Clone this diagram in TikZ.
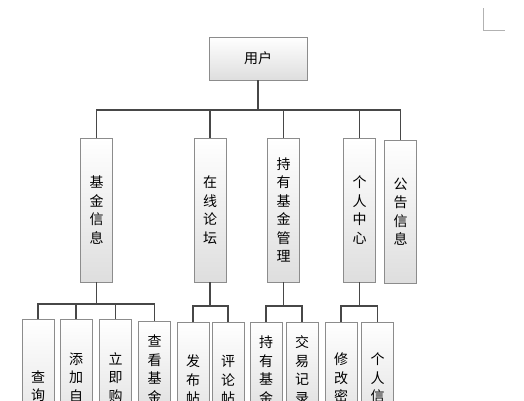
\documentclass[tikz,border=0pt]{standalone}
\usepackage{fontspec}
\newfontfamily\cjk{Noto Sans CJK SC}
\usepackage{tikz}
\usetikzlibrary{positioning}

\begin{document}
\begin{tikzpicture}[x=1pt, y=-1pt,
        every node/.style={font=\cjk\fontsize{14}{18.5}\selectfont, align=center},
        box/.style={rectangle, draw=black!45, line width=0.9pt, top color=white, bottom color=black!13, inner sep=0pt, minimum width=32pt},
        link/.style={draw=black!72, line width=1.1pt},
        corner/.style={draw=black!30, line width=0.8pt}
    ]
        \useasboundingbox (0,0) rectangle (524,400);
        \clip (0,0) rectangle (524,400);

        % Raiz
        \node[box, minimum width=98pt, minimum height=43pt] (user) at (258,58.5) {用户};

        % Segundo nivel
        \node[box, minimum height=144pt] (info)   at (96.5,210)  {基\\金\\信\\息};
        \node[box, minimum height=144pt] (forum)  at (210,210)   {在\\线\\论\\坛};
        \node[box, minimum height=144pt] (hold)   at (283.5,210) {持\\有\\基\\金\\管\\理};
        \node[box, minimum height=144pt] (center) at (359.5,210) {个\\人\\中\\心};
        \node[box, minimum height=143pt] (notice) at (400.5,211.5) {公\\告\\信\\息};

        % Tercer nivel
        \node[box, minimum height=134pt] (q1) at (38,386)    {查\\询};
        \node[box, minimum height=117pt] (q2) at (76,377.5)  {添\\加\\自};
        \node[box, minimum height=117pt] (q3) at (115.5,377.5) {立\\即\\购};
        \node[box, minimum height=96pt]  (q4) at (154.5,369) {查\\看\\基\\金};
        \node[box, minimum height=116pt] (f1) at (193,380)   {发\\布\\帖};
        \node[box, minimum height=116pt] (f2) at (228,380)   {评\\论\\帖};
        \node[box, minimum height=96pt]  (h1) at (266,370)   {持\\有\\基\\金};
        \node[box, minimum height=96pt]  (h2) at (302,370)   {交\\易\\记\\录};
        \node[box, minimum height=112pt] (p1) at (341,378)   {修\\改\\密};
        \node[box, minimum height=112pt] (p2) at (377.5,378) {个\\人\\信};

        % Conexiones
        \coordinate (bus0) at (258,110);
        \draw[link] (user.south) -- (bus0);
        \foreach \n in {info, forum, hold, center, notice}
            \draw[link] (bus0) -| (\n.north);

        \coordinate (bus1) at (96.5,304);
        \draw[link] (info.south) -- (bus1);
        \foreach \n in {q1, q2, q3, q4}
            \draw[link] (bus1) -| (\n.north);

        \coordinate (bus2) at (210,306);
        \draw[link] (forum.south) -- (bus2);
        \foreach \n in {f1, f2}
            \draw[link] (bus2) -| (\n.north);

        \coordinate (bus3) at (283.5,306);
        \draw[link] (hold.south) -- (bus3);
        \foreach \n in {h1, h2}
            \draw[link] (bus3) -| (\n.north);

        \coordinate (bus4) at (359.5,306);
        \draw[link] (center.south) -- (bus4);
        \foreach \n in {p1, p2}
            \draw[link] (bus4) -| (\n.north);

        % Marca de esquina
        \draw[corner] (483,8) -- (483,30) -- (505,30);
    \end{tikzpicture}
\end{document}
